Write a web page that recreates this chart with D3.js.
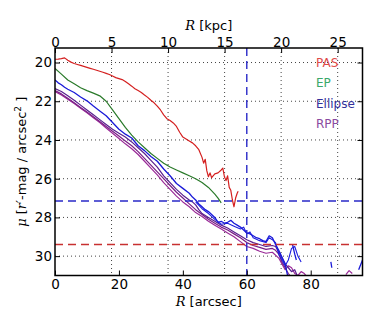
<!DOCTYPE html>
<html><head><meta charset="utf-8">
<script src="https://cdn.jsdelivr.net/npm/d3@7"></script>
<style>body{margin:0;background:#fff}</style>
</head><body><svg id="c" width="390" height="325"></svg>
<script>
// ---- data ----
const arcsecTicks = [0, 20, 40, 60, 80];
const kpcTicks = [0, 5, 10, 15, 20, 25];
const muTicks = [20, 22, 24, 26, 28, 30];
const kpcPerArcsec = 0.2827;
const xMaxArcsec = 96.2;
const muRange = [19.25, 31.0];

const legendLabels = ["PAS", "EP", "Ellipse", "RPP"];

const pasR  = [0,1,2,3,4,5,6,7,8,9,10,11,12,13,14,15,16,17,18,19,20,21,22,23,24,25,26,27,28,29,30,31,32,33,34,35,36,37,38,39,40,41,42,43,44,45,46,46.5,47,47.5,48,48.5,49,50,51,52,52.5,53,53.5,54,54.5,55,55.5,56,56.5,57,57.3];
const pasMu = [19.83,19.82,19.8,19.76,19.88,19.98,20.05,20.1,20.15,20.2,20.25,20.3,20.35,20.4,20.45,20.5,20.56,20.62,20.7,20.78,20.83,20.88,20.98,21.1,21.22,21.35,21.45,21.55,21.68,21.8,21.95,22.08,22.25,22.45,22.7,22.9,23.0,23.12,23.3,23.6,23.85,23.95,24.05,24.15,24.3,24.5,24.9,25.2,25.0,25.6,25.9,25.7,25.95,25.75,25.7,25.55,25.45,25.9,26.1,25.85,26.45,26.6,27.1,27.45,27.0,26.75,26.65];

const epR  = [0,2,4,6,8,10,12,14,16,18,20,22,24,26,28,30,32,34,36,38,40,42,44,46,48,50,51,52];
const epMu = [20.3,20.6,20.9,21.1,21.3,21.45,21.58,21.72,22.0,22.45,22.9,23.35,23.75,24.1,24.4,24.7,24.95,25.2,25.4,25.55,25.7,25.85,26.0,26.2,26.45,26.8,27.0,27.25];

const ellR  = [0,1,2,3,4,6,8,10,12,14,16,18,20,22,24,26,28,30,32,34,36,38,40,42,43,44,45,46,47,48,49,50,51,52,53,54,55,56,57,58,59,60,61,62,63,64,65,66,67,68,69,70,71,72,72.5,73,null,74.3,75,75.5,null,86.3,86.6,null,95,96.2];
const ellMu = [20.9,21.05,21.15,21.28,21.38,21.55,21.78,21.98,22.25,22.5,22.75,23.1,23.45,23.7,23.9,24.3,24.55,24.85,25.1,25.5,25.85,26.25,26.5,26.75,26.95,27.1,27.3,27.45,27.6,27.7,27.85,28.0,28.25,28.2,28.3,28.25,28.15,28.3,28.4,28.5,28.65,28.8,28.85,28.95,29.05,29.1,29.2,29.25,28.95,29.05,29.4,29.7,30.05,30.4,30.8,31.2,null,29.4,29.9,30.2,null,30.3,30.6,null,30.7,30.2];

const ell2R  = [44,46,48,50,52,54,56,58,59,60,61,62,64,66,67,68,69,70,71,72,73,74,75,76,77];
const ell2Mu = [27.2,27.55,27.8,28.1,28.35,28.3,28.45,28.6,28.5,28.85,28.75,29.05,29.2,29.3,29.05,29.15,29.3,29.9,30.2,30.5,30.2,29.6,29.5,30.0,30.3];

const rppAR  = [0,2,4,6,8,10,12,14,16,18,20,22,24,26,28,30,32,34,36,38,40,42,43,44,45,46,48,50,52,54,56,58,60,62,64,66,68,69,70,71,72,73,74,75,76];
const rppAMu = [21.35,21.5,21.72,21.95,22.2,22.45,22.7,22.95,23.2,23.45,23.65,23.85,24.1,24.4,24.7,25.05,25.4,25.85,26.2,26.55,26.85,27.1,27.2,27.35,27.6,27.8,28.0,28.2,28.4,28.55,28.75,28.95,29.15,29.3,29.4,29.5,29.45,29.5,29.8,30.1,30.4,30.6,30.8,30.7,31.1];

const rppBR  = [0,2,4,6,8,10,12,14,16,18,20,22,24,26,28,30,32,34,36,38,40,42,44,46,48,50,52,54,56,58,60,62,64,66,68,69,70,71,72,73,74];
const rppBMu = [21.45,21.62,21.85,22.08,22.32,22.56,22.8,23.05,23.3,23.55,23.8,24.05,24.3,24.6,24.95,25.3,25.65,26.0,26.35,26.7,27.0,27.3,27.6,27.85,28.1,28.3,28.5,28.65,28.85,29.05,29.3,29.45,29.55,29.65,29.6,29.7,29.9,30.3,30.6,30.9,31.1];

const rppCR  = [0,2,4,6,8,10,12,14,16,18,20,22,24,26,28,30,32,34,36,38,40,42,44,46,48,50,52,54,56,58,60,62,64,66,68,70,71,72,73,74,75,76,77,78,79,null,91,92,93];
const rppCMu = [21.5,21.68,21.9,22.12,22.36,22.6,22.85,23.1,23.38,23.65,23.92,24.2,24.45,24.75,25.1,25.45,25.8,26.2,26.55,26.9,27.2,27.45,27.75,27.95,28.2,28.4,28.6,28.8,29.0,29.25,29.5,29.6,29.75,29.85,29.8,30.1,30.4,30.7,30.5,30.6,30.9,31.0,30.8,30.9,31.1,null,30.95,30.75,30.9];

const hLimitBlue = 27.15;
const hLimitRed = 29.4;
const vLimitArcsec = 60;

// ---- layout ----
const W = 390, H = 325;
const m = {l: 55, r: 27.5, t: 48, b: 49.5};
const pw = W - m.l - m.r, ph = H - m.t - m.b;
const svg = d3.select("#c");
const x = d3.scaleLinear().domain([0, xMaxArcsec]).range([m.l, m.l + pw]);
const xk = d3.scaleLinear().domain([0, xMaxArcsec * kpcPerArcsec]).range([m.l, m.l + pw]);
const y = d3.scaleLinear().domain(muRange).range([m.t, m.t + ph]);

svg.append("defs").append("clipPath").attr("id", "clip")
  .append("rect").attr("x", m.l).attr("y", m.t).attr("width", pw).attr("height", ph);

// grid
const grid = svg.append("g").attr("stroke", "#444").attr("stroke-width", 1).attr("stroke-dasharray", "1,3");
kpcTicks.filter(d => d > 0).forEach(d => grid.append("line").attr("x1", xk(d)).attr("x2", xk(d)).attr("y1", m.t).attr("y2", m.t + ph));
muTicks.forEach(d => grid.append("line").attr("x1", m.l).attr("x2", m.l + pw).attr("y1", y(d)).attr("y2", y(d)));

// series
const plot = svg.append("g").attr("clip-path", "url(#clip)");
function series(R, M, color, w) {
  const pts = R.map((r, i) => [r, M[i]]);
  const line = d3.line().defined(d => d[0] != null && d[1] != null).x(d => x(d[0])).y(d => y(d[1]));
  plot.append("path").attr("d", line(pts)).attr("fill", "none").attr("stroke", color).attr("stroke-width", w).attr("stroke-linejoin", "round");
}
series(rppCR, rppCMu, "#9a2a98", 1.2);
series(rppBR, rppBMu, "#7a1f86", 1.2);
series(rppAR, rppAMu, "#5a2090", 1.2);
series(ell2R, ell2Mu, "#1d1de0", 1.1);
series(ellR, ellMu, "#1a1ad8", 1.3);
series(epR, epMu, "#2a7a2a", 1.2);
series(pasR, pasMu, "#d42020", 1.2);

// limits
plot.append("line").attr("x1", m.l).attr("x2", m.l + pw).attr("y1", y(hLimitBlue)).attr("y2", y(hLimitBlue))
  .attr("stroke", "#2828c8").attr("stroke-width", 1.4).attr("stroke-dasharray", "8,5");
plot.append("line").attr("x1", m.l).attr("x2", m.l + pw).attr("y1", y(hLimitRed)).attr("y2", y(hLimitRed))
  .attr("stroke", "#c83030").attr("stroke-width", 1.4).attr("stroke-dasharray", "8,5");
plot.append("line").attr("x1", x(vLimitArcsec)).attr("x2", x(vLimitArcsec)).attr("y1", m.t).attr("y2", m.t + ph)
  .attr("stroke", "#2828c8").attr("stroke-width", 1.4).attr("stroke-dasharray", "8,5");

// axes (ticks inward)
const font = "DejaVu Sans";
const axB = svg.append("g").attr("transform", `translate(0,${m.t + ph})`)
  .call(d3.axisBottom(x).tickValues(arcsecTicks).tickSizeInner(-5).tickSizeOuter(0).tickPadding(4));
const axT = svg.append("g").attr("transform", `translate(0,${m.t})`)
  .call(d3.axisTop(xk).tickValues(kpcTicks).tickSizeInner(-5).tickSizeOuter(0).tickPadding(1.5));
const axL = svg.append("g").attr("transform", `translate(${m.l},0)`)
  .call(d3.axisLeft(y).tickValues(muTicks).tickSizeInner(-5).tickSizeOuter(0).tickPadding(3));
const axR = svg.append("g").attr("transform", `translate(${m.l + pw},0)`)
  .call(d3.axisRight(y).tickValues(muTicks).tickSizeInner(-5).tickSizeOuter(0).tickFormat(""));
[axB, axT, axL, axR].forEach(a => {
  a.select(".domain").remove();
  a.selectAll(".tick line").attr("stroke", "#000").attr("stroke-width", 1);
  a.selectAll("text").attr("font-family", font).attr("font-size", 13.5).attr("fill", "#000");
});

// frame
svg.append("rect").attr("x", m.l).attr("y", m.t).attr("width", pw).attr("height", ph)
  .attr("fill", "none").attr("stroke", "#000").attr("stroke-width", 1.5);

// legend
const legendColors = ["#de4a4a", "#3aa86a", "#33309a", "#8a4aa0"];
legendLabels.forEach((t, i) => {
  svg.append("text").attr("x", 316).attr("y", 63 + i * 20.2).attr("dy", "0.35em")
    .attr("font-family", font).attr("font-size", 12).attr("fill", legendColors[i]).text(t);
});

// axis labels
function rLabel(yy, unit) {
  const t = svg.append("text").attr("x", m.l + pw / 2).attr("y", yy).attr("text-anchor", "middle")
    .attr("font-family", font).attr("font-size", 13).attr("fill", "#000");
  t.append("tspan").attr("font-family", "DejaVu Serif").attr("font-style", "italic").text("R");
  t.append("tspan").text(" [" + unit + "]");
}
rLabel(29.5, "kpc");
rLabel(305.5, "arcsec");

const yl = svg.append("text").attr("transform", `translate(26,${m.t + ph / 2}) rotate(-90)`)
  .attr("text-anchor", "middle").attr("font-family", font).attr("font-size", 13).attr("fill", "#000");
yl.append("tspan").attr("font-family", "DejaVu Serif").attr("font-style", "italic").text("μ");
yl.append("tspan").text(" [");
yl.append("tspan").attr("font-family", "DejaVu Serif").attr("font-style", "italic").text("r′");
yl.append("tspan").text("-mag / arcsec");
yl.append("tspan").attr("font-size", 9).attr("dy", -5).text("2");
yl.append("tspan").attr("dy", 5).text(" ]");
</script>
</body></html>
